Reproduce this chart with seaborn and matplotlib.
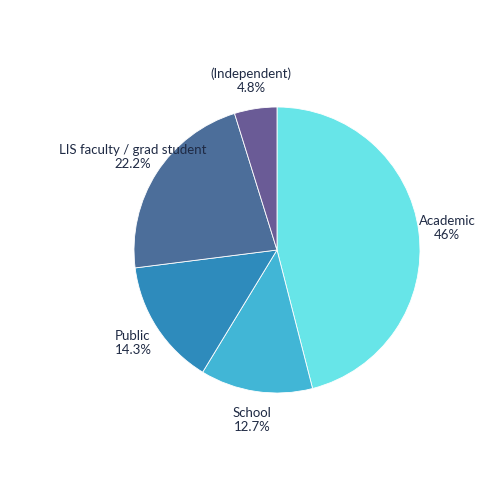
import matplotlib.pyplot as plt
import seaborn as sns

sns.set_theme(style="white")
plt.rcParams['font.family'] = ['Lato', 'DejaVu Sans']

categories = ["Academic", "School", "Public", "LIS faculty / grad student", "(Independent)"]
shares = [46, 12.7, 14.3, 22.2, 4.8]
colors = ["#67e5e8", "#41b6d6", "#2e8bbc", "#4c6e9a", "#6a5b96"]

labels = [f"{c}\n{v:g}%" for c, v in zip(categories, shares)]

fig = plt.figure(figsize=(5, 5), dpi=100)
cx, cy, r = 0.554, 0.5, 0.286
ax = fig.add_axes([cx - r, cy - r, 2 * r, 2 * r])
wedges, texts = ax.pie(shares, labels=labels, colors=colors, startangle=90,
                       counterclock=False, labeldistance=1.2,
                       wedgeprops=dict(edgecolor="white", linewidth=0.6),
                       textprops=dict(fontsize=9.5, color="#1f2a44"))
for t in texts:
    t.set_ha("center")
    t.set_va("center")
ax.set_xlim(-1, 1)
ax.set_ylim(-1, 1)
ax.set_aspect("equal")
fig.savefig("out.png", dpi=100)
